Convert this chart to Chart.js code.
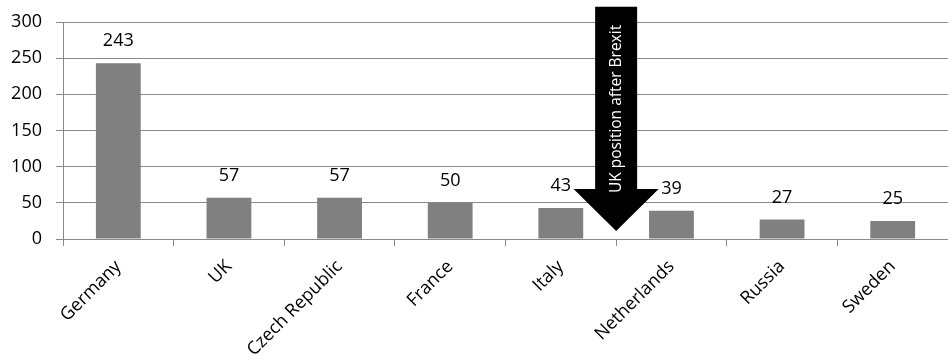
<!DOCTYPE html>
<html>
<head>
<meta charset="utf-8">
<script src="https://cdn.jsdelivr.net/npm/chart.js@4"></script>
<style>
    html, body { margin: 0; padding: 0; background: #fff; }
    #wrap { width: 948px; height: 362px; }
</style>
</head>
<body>
<div id="wrap"><canvas id="grafico"></canvas></div>
<script>
const paises = ['Germany', 'UK', 'Czech Republic', 'France', 'Italy', 'Netherlands', 'Russia', 'Sweden'];
const valores = [243, 57, 57, 50, 43, 39, 27, 25];
const ticksY = [0, 50, 100, 150, 200, 250, 300];

// flecha de anotación: entre Italy y Netherlands
const flechaTexto = 'UK position after Brexit';
const flechaEntre = [4, 5];
const flechaValores = { punta: 11, baseCabeza: 69, arriba: 321 };

const colorGris = '#8a8a8a';
const fuente = '"Open Sans", "Liberation Sans", sans-serif';

// Etiquetas de valor encima de cada barra
const etiquetasBarras = {
    id: 'etiquetasBarras',
    afterDatasetsDraw(chart) {
        const ctx = chart.ctx;
        const meta = chart.getDatasetMeta(0);
        ctx.save();
        ctx.fillStyle = '#000';
        ctx.font = '18px ' + fuente;
        ctx.textAlign = 'center';
        ctx.textBaseline = 'middle';
        meta.data.forEach((bar, i) => {
            ctx.fillText(String(valores[i]), bar.x, bar.y - 22);
        });
        ctx.restore();
    }
};

// Flecha negra con texto vertical
const flecha = {
    id: 'flecha',
    afterDraw(chart) {
        const ctx = chart.ctx;
        const x = chart.scales.x;
        const y = chart.scales.y;
        const cx = (x.getPixelForValue(flechaEntre[0]) + x.getPixelForValue(flechaEntre[1])) / 2;
        const punta = y.getPixelForValue(flechaValores.punta);
        const base = y.getPixelForValue(flechaValores.baseCabeza);
        const arriba = y.getPixelForValue(flechaValores.arriba);
        const medioAncho = 21;
        const medioCabeza = 42.5;
        ctx.save();
        ctx.fillStyle = '#000';
        ctx.beginPath();
        ctx.moveTo(cx - medioAncho, arriba);
        ctx.lineTo(cx + medioAncho, arriba);
        ctx.lineTo(cx + medioAncho, base);
        ctx.lineTo(cx + medioCabeza, base);
        ctx.lineTo(cx, punta);
        ctx.lineTo(cx - medioCabeza, base);
        ctx.lineTo(cx - medioAncho, base);
        ctx.closePath();
        ctx.fill();
        ctx.translate(cx, (arriba + base) / 2 + 11);
        ctx.rotate(-Math.PI / 2);
        ctx.fillStyle = '#fff';
        ctx.font = '15.5px ' + fuente;
        ctx.textAlign = 'center';
        ctx.textBaseline = 'middle';
        ctx.fillText(flechaTexto, 0, 0);
        ctx.restore();
    }
};

new Chart(document.getElementById('grafico'), {
    type: 'bar',
    data: {
        labels: paises,
        datasets: [{
            data: valores,
            backgroundColor: '#808080',
            borderWidth: 0,
            categoryPercentage: 1,
            barPercentage: 0.405
        }]
    },
    options: {
        responsive: true,
        maintainAspectRatio: false,
        animation: false,
        events: [],
        layout: { padding: { top: 22, right: -4, left: 0, bottom: 0 } },
        plugins: {
            legend: { display: false },
            tooltip: { enabled: false }
        },
        scales: {
            x: {
                afterFit: (scale) => { scale.height = 123; },
                grid: {
                    offset: true,
                    drawOnChartArea: false,
                    drawTicks: true,
                    tickLength: 7,
                    color: colorGris
                },
                border: { color: colorGris },
                ticks: {
                    color: '#000',
                    font: { family: fuente, size: 18 },
                    minRotation: 45,
                    maxRotation: 45,
                    autoSkip: false,
                    padding: 10
                }
            },
            y: {
                min: 0,
                max: 300,
                afterFit: (scale) => {
                    scale.width = 63;
                    scale.paddingTop = 0;
                    scale.paddingBottom = 0;
                },
                afterBuildTicks: (scale) => { scale.ticks = ticksY.map(v => ({ value: v })); },
                grid: {
                    color: colorGris,
                    tickLength: 7
                },
                border: { color: colorGris },
                ticks: {
                    color: '#000',
                    font: { family: fuente, size: 18 },
                    padding: 14
                }
            }
        }
    },
    plugins: [etiquetasBarras, flecha]
});
</script>
</body>
</html>
